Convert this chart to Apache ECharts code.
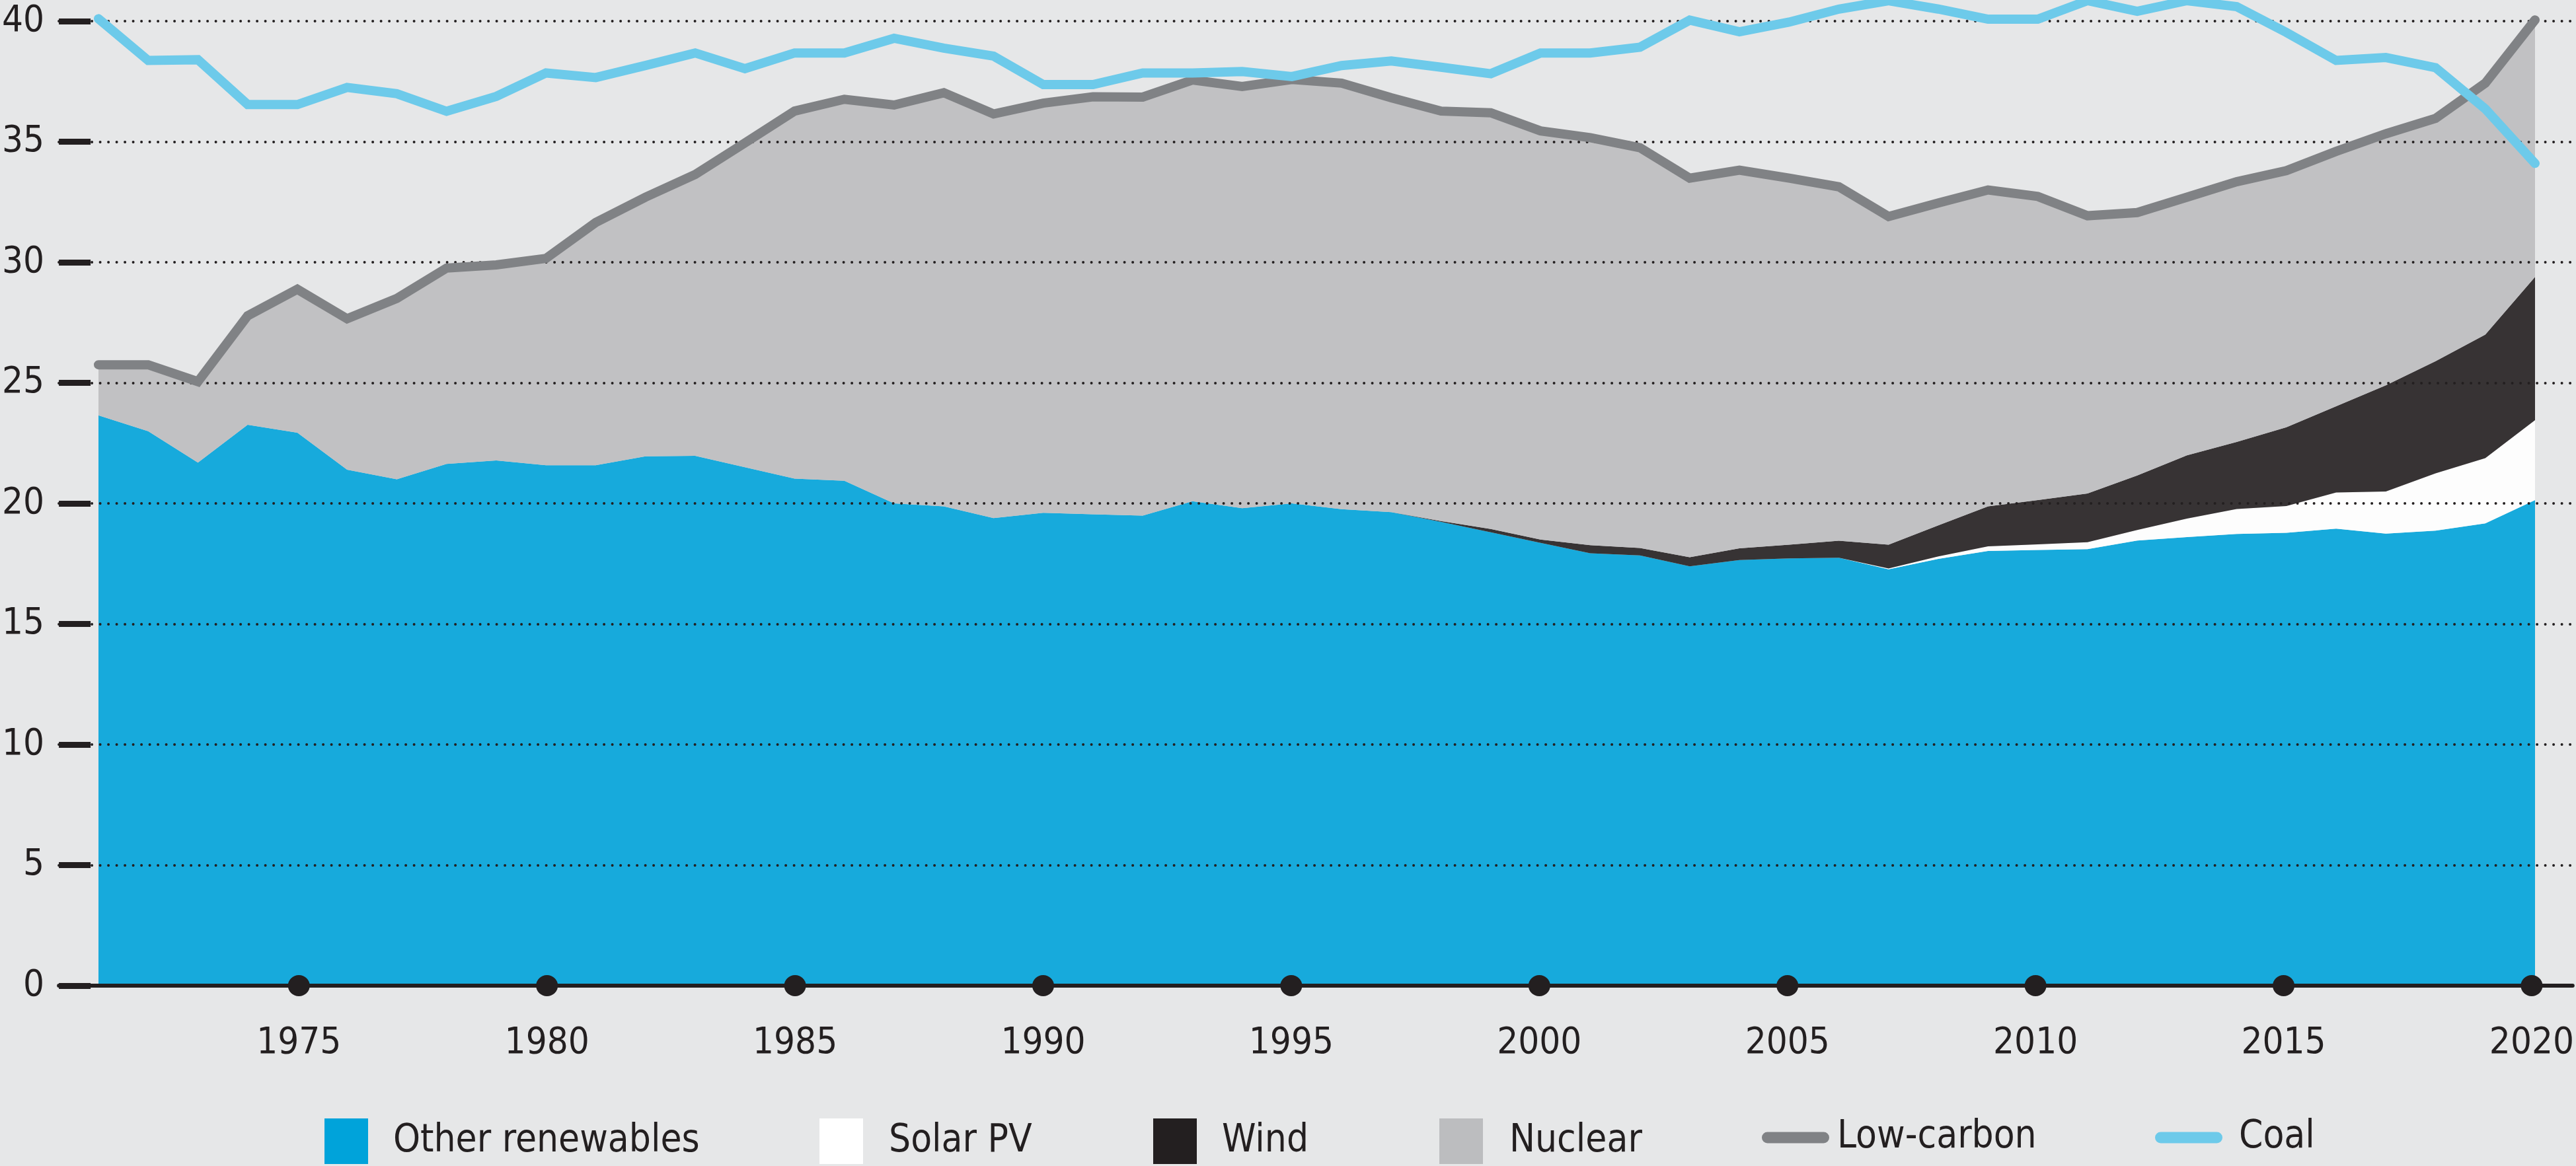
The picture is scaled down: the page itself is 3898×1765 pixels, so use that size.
<!DOCTYPE html>
<html><head><meta charset="utf-8">
<script src="https://cdn.jsdelivr.net/npm/echarts@6/dist/echarts.min.js"></script>
<style>html,body{margin:0;padding:0;background:#e6e7e8}#c{width:3898px;height:1765px}</style>
</head><body><div id="c"></div>
<script>
// ---- data ----
const years = [1971,1972,1973,1974,1975,1976,1977,1978,1979,1980,
  1981,1982,1983,1984,1985,1986,1987,1988,1989,1990,
  1991,1992,1993,1994,1995,1996,1997,1998,1999,2000,
  2001,2002,2003,2004,2005,2006,2007,2008,2009,2010,
  2011,2012,2013,2014,2015,2016,2017,2018,2019,2020];
const tickYears = [1975,1980,1985,1990,1995,2000,2005,2010,2015,2020];
const otherRenewables = [23.65,22.99,21.69,23.26,22.93,21.4,21.0,21.64,21.78,21.58,
  21.58,21.95,21.97,21.5,21.03,20.94,20.0,19.88,19.39,19.61,
  19.55,19.49,20.09,19.8,20.0,19.76,19.64,19.23,18.8,18.36,
  17.93,17.84,17.39,17.65,17.72,17.75,17.27,17.7,18.03,18.07,
  18.1,18.46,18.6,18.73,18.78,18.95,18.75,18.87,19.17,20.14];
const solarPV = [0,0,0,0,0,0,0,0,0,0,
  0,0,0,0,0,0,0,0,0,0,
  0,0,0,0,0,0,0,0,0,0,
  0,0,0,0,0,0,0.03,0.1,0.19,0.23,
  0.29,0.44,0.77,1.04,1.11,1.5,1.74,2.38,2.71,3.31];
const wind = [0,0,0,0,0,0,0,0,0,0,
  0,0,0,0,0,0,0,0,0,0,
  0,0,0,0,0,0,0,0.04,0.14,0.14,
  0.34,0.31,0.38,0.49,0.57,0.7,0.99,1.29,1.66,1.84,
  2.02,2.26,2.62,2.78,3.27,3.58,4.41,4.65,5.12,5.94];
const nuclear = [2.10,2.76,3.36,4.52,5.95,6.26,7.5,8.12,8.11,8.58,
  10.07,10.75,11.67,13.45,15.24,15.82,16.52,17.15,16.76,16.99,
  17.31,17.36,17.47,17.49,17.58,17.67,17.18,17.0,17.26,16.95,
  16.9,16.6,15.72,15.68,15.2,14.68,13.61,13.37,13.12,12.59,
  11.52,10.9,10.71,10.79,10.64,10.57,10.43,10.07,10.43,10.66];
const lowCarbon = [25.75,25.75,25.05,27.78,28.88,27.66,28.5,29.76,29.89,30.16,
  31.65,32.7,33.64,34.95,36.27,36.76,36.52,37.03,36.15,36.6,
  36.86,36.85,37.56,37.29,37.58,37.43,36.82,36.27,36.2,35.45,
  35.17,34.75,33.49,33.82,33.49,33.13,31.9,32.46,33.0,32.73,
  31.93,32.06,32.7,33.34,33.8,34.6,35.33,35.97,37.43,40.05];
const coal = [40.1,38.37,38.4,36.54,36.54,37.25,36.99,36.26,36.88,37.85,
  37.66,38.16,38.68,38.03,38.68,38.68,39.29,38.88,38.55,37.37,
  37.37,37.85,37.85,37.91,37.7,38.16,38.35,38.09,37.82,38.68,
  38.68,38.92,40.04,39.56,39.96,40.5,40.85,40.5,40.08,40.08,
  40.85,40.41,40.85,40.6,39.53,38.37,38.49,38.07,36.36,34.1];

// ---- chart ----
const FONT = "'Liberation Sans Narrow','DejaVu Sans Condensed','Liberation Sans',sans-serif";
const INK = '#231f20';
const capsule = 'path://M8.5,0H93.5A8.5,8.5,0,0,1,93.5,17H8.5A8.5,8.5,0,0,1,8.5,0Z';

function areaSeries(name, data, color) {
  return {
    name, type: 'line', stack: 'total', data, color, xAxisIndex: 0, yAxisIndex: 0,
    symbol: 'none', showSymbol: false, lineStyle: { width: 0, opacity: 0 },
    areaStyle: { color, opacity: 0.9 }, z: 2, silent: true
  };
}
function lineSeries(name, data, color, z) {
  return {
    name, type: 'line', data, color, xAxisIndex: 0, yAxisIndex: 0,
    symbol: 'none', showSymbol: false, clip: false, z, silent: true,
    lineStyle: { width: 14, color, cap: 'round', join: 'miter' }
  };
}
function legendItem(name, left, w, h, icon, pad) {
  return {
    data: [name], left, top: 1693, itemWidth: w, itemHeight: h, icon,
    selectedMode: false, padding: 0,
    textStyle: { fontFamily: FONT, fontSize: 58, color: INK, padding: [0, 0, 0, pad] }
  };
}

const chart = echarts.init(document.getElementById('c'), null, { renderer: 'canvas' });
chart.setOption({
  backgroundColor: '#e6e7e8',
  animation: false,
  grid: [
    { left: 149, right: 62, top: 32, bottom: 273, containLabel: false },
    { left: 86, right: 0, top: 32, bottom: 273, containLabel: false }
  ],
  xAxis: [
    { type: 'category', gridIndex: 0, data: years, boundaryGap: false, show: false },
    {
      type: 'value', gridIndex: 1, min: 1970.163, max: 2020.824, splitNumber: 10, z: 3,
      axisLine: { show: true, lineStyle: { color: INK, width: 6 } },
      axisTick: { show: false },
      splitLine: { show: false },
      axisLabel: {
        show: true, margin: 59, fontFamily: FONT, fontSize: 56, color: INK,
        showMinLabel: false, showMaxLabel: false,
        formatter: v => (tickYears.indexOf(Math.round(v)) >= 0 && Math.abs(v - Math.round(v)) < 1e-6 ? String(Math.round(v)) : '')
      }
    }
  ],
  yAxis: [
    { type: 'value', gridIndex: 0, min: 0, max: 40, show: false },
    {
      type: 'value', gridIndex: 1, min: 0, max: 40, interval: 5, z: 3,
      axisLine: { show: false },
      axisTick: { show: true, inside: true, length: 48, lineStyle: { color: INK, width: 9 } },
      axisLabel: { margin: 22, fontFamily: FONT, fontSize: 56, color: INK },
      splitLine: { show: true, lineStyle: { color: INK, width: 4, type: [0, 12.5], cap: 'round' } }
    }
  ],
  legend: [
    legendItem('Other renewables', 491, 66, 69, 'rect', 33),
    legendItem('Solar PV', 1240, 66, 69, 'rect', 34),
    legendItem('Wind', 1745, 66, 69, 'rect', 33),
    legendItem('Nuclear', 2178, 66, 69, 'rect', 35),
    legendItem('Low-carbon', 2666, 102, 17, capsule, 7),
    legendItem('Coal', 3261, 102, 17, capsule, 20)
  ],
  series: [
    areaSeries('Other renewables', otherRenewables, '#00a3da'),
    areaSeries('Solar PV', solarPV, '#ffffff'),
    areaSeries('Wind', wind, INK),
    areaSeries('Nuclear', nuclear, '#bcbdbf'),
    lineSeries('Low-carbon', lowCarbon, '#808285', 4),
    lineSeries('Coal', coal, '#6dcaea', 5),
    {
      name: 'ticks', type: 'scatter', xAxisIndex: 1, yAxisIndex: 1,
      data: tickYears.map(y => [y, 0]),
      symbol: 'circle', symbolSize: [33, 32], itemStyle: { color: INK, opacity: 1 },
      z: 6, silent: true, clip: false
    }
  ]
});
</script></body></html>
